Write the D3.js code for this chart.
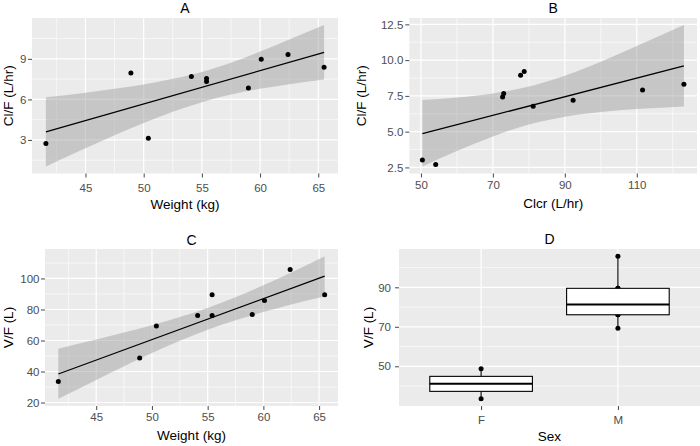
<!DOCTYPE html>
<html>
<head>
<meta charset="utf-8">
<script src="https://cdn.jsdelivr.net/npm/d3@7"></script>
<style>
  body { margin: 0; background: #fff; }
  svg { display: block; font-family: "Liberation Sans", Arial, sans-serif; }
  .tick text { fill: #4d4d4d; font-size: 11.5px; }
  .tick line { stroke: #333; stroke-width: 0.9; }
  .domain { display: none; }
</style>
</head>
<body>
<div id="chart"></div>
<script>
// subjects
const weight = [41.6, 48.9, 50.4, 54.1, 55.4, 55.4, 59.0, 60.1, 62.4, 65.5]
const clWeight = [2.73, 7.95, 3.12, 7.69, 7.54, 7.32, 6.85, 8.97, 9.32, 8.38]
const clcr = [50.4, 54.1, 72.7, 73.0, 77.7, 78.7, 81.2, 92.3, 111.6, 123.1]
const clClcr = [3.02, 2.71, 7.43, 7.67, 8.95, 9.21, 6.77, 7.2, 7.92, 8.32]
const vf = [33.5, 48.7, 69.3, 76.1, 89.5, 76.1, 76.8, 85.8, 105.8, 89.5]
const sex = ['F', 'F', 'M', 'M', 'M', 'M', 'M', 'M', 'M', 'M']

// fitted lines and confidence bands
const fitAx = [41.6, 65.5], fitAy = [3.6, 9.48]
const bandAx = [41.6, 45, 47.5, 50, 52.5, 55.3, 57.5, 60, 62.5, 65.5]
const bandAlo = [1.04, 2.38, 3.34, 4.25, 5.09, 5.87, 6.36, 6.78, 7.12, 7.47]
const bandAhi = [6.16, 6.5, 6.79, 7.11, 7.52, 8.11, 8.72, 9.54, 10.44, 11.5]

const fitBx = [50.4, 123.1], fitBy = [4.86, 9.6]
const bandBx = [50.4, 60, 70, 81.5, 90, 100, 110, 123.1]
const bandBlo = [2.57, 3.65, 4.67, 5.6, 6.05, 6.38, 6.58, 6.76]
const bandBhi = [7.21, 7.39, 7.67, 8.24, 8.9, 9.88, 10.98, 12.45]

const fitCx = [41.6, 65.5], fitCy = [38.4, 101.5]
const bandCx = [41.6, 45, 47.5, 50, 52.5, 55.3, 57.5, 60, 62.5, 65.5]
const bandClo = [22.36, 34.6, 43.4, 51.9, 59.8, 67.7, 73.0, 78.3, 83.2, 88.3]
const bandChi = [54.7, 60.6, 65.1, 69.9, 75.1, 81.8, 87.9, 95.6, 103.8, 114.4]

// ticks
const weightTicks = [45, 50, 55, 60, 65], weightMinor = [42.5, 47.5, 52.5, 57.5, 62.5]
const clTicksA = [3, 6, 9], clMinorA = [1.5, 4.5, 7.5, 10.5]
const clcrTicks = [50, 70, 90, 110], clcrMinor = [60, 80, 100, 120]
const clTicksB = [2.5, 5, 7.5, 10, 12.5], clMinorB = [3.75, 6.25, 8.75, 11.25]
const vfTicksC = [20, 40, 60, 80, 100], vfMinorC = [30, 50, 70, 90, 110]
const sexCats = ['F', 'M']
const vfTicksD = [50, 70, 90], vfMinorD = [40, 60, 80, 100]

const width = 700
const height = 446
const expand = function (ext) {
  const d = ext[1] - ext[0]
  return [ext[0] - 0.05 * d, ext[1] + 0.05 * d]
}

const chart = d3.select('#chart')
  .append('svg')
  .attr('width', width)
  .attr('height', height)

const drawFrame = function (box, x, y, xMajor, xMinor, yMajor, yMinor) {
  const g = chart.append('g')
  g.append('rect')
    .attr('x', box.l).attr('y', box.t)
    .attr('width', box.r - box.l).attr('height', box.b - box.t)
    .attr('fill', '#ebebeb')

  const vline = (vals, w) => g.selectAll(null).data(vals).enter().append('line')
    .attr('x1', d => x(d)).attr('x2', d => x(d))
    .attr('y1', box.t).attr('y2', box.b)
    .attr('stroke', '#fff').attr('stroke-width', w)
  const hline = (vals, w) => g.selectAll(null).data(vals).enter().append('line')
    .attr('y1', d => y(d)).attr('y2', d => y(d))
    .attr('x1', box.l).attr('x2', box.r)
    .attr('stroke', '#fff').attr('stroke-width', w)

  vline(xMinor, 0.6)
  hline(yMinor, 0.6)
  vline(xMajor, 1.2)
  hline(yMajor, 1.2)
  return g
}

const drawAxes = function (box, x, y, xTicks, yTicks, yFmt, opt) {
  chart.append('g')
    .attr('transform', 'translate(0,' + box.b + ')')
    .call(d3.axisBottom(x).tickValues(xTicks).tickSize(4).tickPadding(opt.xPad))
  chart.append('g')
    .attr('transform', 'translate(' + box.l + ',0)')
    .call(d3.axisLeft(y).tickValues(yTicks).tickSize(4).tickPadding(opt.yPad).tickFormat(yFmt))

  chart.append('text')
    .attr('x', (box.l + box.r) / 2).attr('y', opt.titleY)
    .attr('text-anchor', 'middle').attr('font-size', '14px')
    .text(opt.title)
  chart.append('text')
    .attr('x', (box.l + box.r) / 2).attr('y', opt.xLabY)
    .attr('text-anchor', 'middle').attr('font-size', '13.5px')
    .text(opt.xLab)
  chart.append('text')
    .attr('transform', 'translate(' + opt.yLabX + ',' + (box.t + box.b) / 2 + ') rotate(-90)')
    .attr('text-anchor', 'middle').attr('font-size', '13.5px')
    .text(opt.yLab)
}

const drawScatter = function (box, xs, ys, fx, fy, bx, blo, bhi, xMajor, xMinor, yMajor, yMinor, yFmt, opt) {
  const x = d3.scaleLinear().domain(expand(d3.extent(xs))).range([box.l, box.r])
  const y = d3.scaleLinear().domain(expand(d3.extent(ys.concat(blo, bhi)))).range([box.b, box.t])
  const g = drawFrame(box, x, y, xMajor, xMinor, yMajor, yMinor)

  const band = bx.map((d, i) => [d, blo[i], bhi[i]])
  g.append('path')
    .datum(band)
    .attr('fill', '#999')
    .attr('fill-opacity', 0.45)
    .attr('d', d3.area().curve(d3.curveMonotoneX)
      .x(d => x(d[0])).y0(d => y(d[1])).y1(d => y(d[2])))

  g.append('path')
    .datum(fx.map((d, i) => [d, fy[i]]))
    .attr('fill', 'none').attr('stroke', '#000').attr('stroke-width', 1.3)
    .attr('d', d3.line().x(d => x(d[0])).y(d => y(d[1])))

  g.selectAll('circle')
    .data(xs)
    .enter()
    .append('circle')
    .attr('cx', d => x(d))
    .attr('cy', (d, i) => y(ys[i]))
    .attr('r', 2.5)
    .attr('fill', '#000')

  drawAxes(box, x, y, xMajor, yMajor, yFmt, opt)
}

// A
drawScatter({ l: 32, r: 338, t: 18, b: 173.5 }, weight, clWeight, fitAx, fitAy,
  bandAx, bandAlo, bandAhi, weightTicks, weightMinor, clTicksA, clMinorA, d3.format('d'),
  { title: 'A', titleY: 13.3, xLab: 'Weight (kg)', xLabY: 208.5, yLab: 'Cl/F (L/hr)', yLabX: 13, xPad: 6, yPad: 1.5 })

// B
drawScatter({ l: 409.3, r: 697, t: 18, b: 173.5 }, clcr, clClcr, fitBx, fitBy,
  bandBx, bandBlo, bandBhi, clcrTicks, clcrMinor, clTicksB, clMinorB, d3.format('.1f'),
  { title: 'B', titleY: 13.3, xLab: 'Clcr (L/hr)', xLabY: 207.5, yLab: 'Cl/F (L/hr)', yLabX: 366, xPad: 3, yPad: 2 })

// C
drawScatter({ l: 45, r: 338, t: 249, b: 406 }, weight, vf, fitCx, fitCy,
  bandCx, bandClo, bandChi, weightTicks, weightMinor, vfTicksC, vfMinorC, d3.format('d'),
  { title: 'C', titleY: 244.7, xLab: 'Weight (kg)', xLabY: 440, yLab: 'V/F (L)', yLabX: 13, xPad: 2.5, yPad: 1.5 })

// D  box plot of V/F by sex
const boxD = { l: 399, r: 700, t: 249, b: 406 }
const xD = d3.scalePoint().domain(sexCats).range([boxD.l, boxD.r]).padding(0.6)
const yD = d3.scaleLinear().domain(expand(d3.extent(vf))).range([boxD.b, boxD.t])
const gD = drawFrame(boxD, xD, yD, sexCats, [], vfTicksD, vfMinorD)

const groups = sexCats.map(s => {
  const v = vf.filter((d, i) => sex[i] === s).sort(d3.ascending)
  const q1 = d3.quantile(v, 0.25), q3 = d3.quantile(v, 0.75)
  const iqr = q3 - q1
  return {
    key: s, values: v, q1: q1, q3: q3, med: d3.quantile(v, 0.5),
    lo: d3.min(v.filter(d => d >= q1 - 1.5 * iqr)),
    hi: d3.max(v.filter(d => d <= q3 + 1.5 * iqr))
  }
})
const boxW = xD.step() * 0.75

groups.forEach(gr => {
  const cx = xD(gr.key)
  gD.selectAll(null).data(gr.values).enter().append('circle')
    .attr('cx', cx).attr('cy', d => yD(d)).attr('r', 2.5).attr('fill', '#000')
  gD.append('line')
    .attr('x1', cx).attr('x2', cx).attr('y1', yD(gr.hi)).attr('y2', yD(gr.q3))
    .attr('stroke', '#000').attr('stroke-width', 1.1)
  gD.append('line')
    .attr('x1', cx).attr('x2', cx).attr('y1', yD(gr.q1)).attr('y2', yD(gr.lo))
    .attr('stroke', '#000').attr('stroke-width', 1.1)
  gD.append('rect')
    .attr('x', cx - boxW / 2).attr('width', boxW)
    .attr('y', yD(gr.q3)).attr('height', yD(gr.q1) - yD(gr.q3))
    .attr('fill', '#fff').attr('stroke', '#000').attr('stroke-width', 1.1)
  gD.append('line')
    .attr('x1', cx - boxW / 2).attr('x2', cx + boxW / 2)
    .attr('y1', yD(gr.med)).attr('y2', yD(gr.med))
    .attr('stroke', '#000').attr('stroke-width', 2)
})

drawAxes(boxD, xD, yD, sexCats, vfTicksD, d3.format('d'),
  { title: 'D', titleY: 243.7, xLab: 'Sex', xLabY: 440.7, yLab: 'V/F (L)', yLabX: 373, xPad: 5.5, yPad: 4 })
</script>
</body>
</html>
